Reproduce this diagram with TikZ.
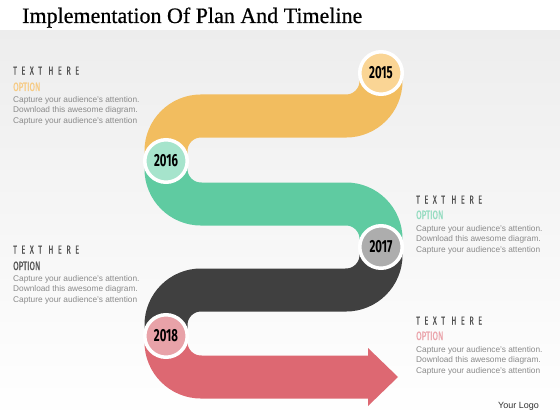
\documentclass[tikz,border=0pt]{standalone}
\usepackage{fontspec}
\setmainfont{Liberation Sans}
\newfontfamily\titlefont[FakeBold=0.6]{Liberation Serif}
\newfontfamily\yearfont[FakeStretch=0.65]{Fira Sans}
\newfontfamily\headfont[FakeStretch=0.62,LetterSpace=40,FakeBold=0.8]{Fira Sans}
\newfontfamily\optfont[FakeStretch=0.66,FakeBold=0.6]{Fira Sans}
\definecolor{orangeband}{HTML}{F2BD5F}
\definecolor{orangecirc}{HTML}{FAD595}
\definecolor{greenband}{HTML}{5FCBA1}
\definecolor{greencirc}{HTML}{A6E4CC}
\definecolor{darkband}{HTML}{404040}
\definecolor{graycirc}{HTML}{ADADAD}
\definecolor{redband}{HTML}{DD6872}
\definecolor{pinkcirc}{HTML}{E8A2A8}
\definecolor{optorange}{HTML}{F7CB83}
\definecolor{optgreen}{HTML}{93DCC0}
\definecolor{optgray}{HTML}{555555}
\definecolor{optpink}{HTML}{EBA4AB}
\definecolor{headgray}{HTML}{505050}
\definecolor{bodygray}{HTML}{8A8A8A}
\begin{document}
\begin{tikzpicture}[x=1pt,y=-1pt,
  band/.style={line width=43pt, rounded corners=35pt},
  yearcirc/.style={circle, draw=white, line width=3.5pt, minimum size=42.5pt, inner sep=0pt,
    font=\yearfont\bfseries\fontsize{17.5}{17.5}\selectfont, text=black},
  headtxt/.style={anchor=base west, inner sep=0pt, font=\headfont\fontsize{11.5}{11.5}\selectfont, text=headgray},
  opttxt/.style={anchor=base west, inner sep=0pt, font=\optfont\fontsize{12}{12}\selectfont},
  bodytxt/.style={anchor=north west, inner sep=0pt, align=left, font=\fontsize{8.3}{10.5}\selectfont, text=bodygray}
]
\useasboundingbox (0,0) rectangle (560,420);
\fill[white] (0,0) rectangle (560,420);
\shade[top color=black!7, bottom color=white] (0,31) rectangle (560,420);
\node[anchor=base west, inner sep=0pt, font=\titlefont\fontsize{22}{22}\selectfont] (title) at (22,23) {Implementation Of Plan And Timeline};

% circle positions
\coordinate (p15) at (381,73);
\coordinate (p16) at (166,161);
\coordinate (p17) at (381,247);
\coordinate (p18) at (166,336);

% bands
\draw[band, draw=orangeband] (p15) -- (381,116) -- (166,116) -- (p16);
\draw[band, draw=greenband] (p16) -- (166,204) -- (381,204) -- (p17);
\draw[band, draw=darkband] (p17) -- (381,290) -- (166,290) -- (p18);
\draw[band, draw=redband] (p18) -- (166,377) -- (370,377);
\fill[redband] (368,348) -- (398,377) -- (368,406) -- cycle;

% year circles
\node[yearcirc, fill=orangecirc] (c15) at (p15) {2015};
\node[yearcirc, fill=greencirc] (c16) at (p16) {2016};
\node[yearcirc, fill=graycirc] (c17) at (p17) {2017};
\node[yearcirc, fill=pinkcirc] (c18) at (p18) {2018};

% text blocks
\node[headtxt] (h1) at (13,74.5) {TEXT HERE};
\node[opttxt, text=optorange] (o1) at (13,91) {OPTION};
\node[bodytxt] (b1) at (13,96) {Capture your audience's attention.\\Download this awesome diagram.\\Capture your audience's attention};

\node[headtxt] (h2) at (416,203.5) {TEXT HERE};
\node[opttxt, text=optgreen] (o2) at (416,219) {OPTION};
\node[bodytxt] (b2) at (416,225) {Capture your audience's attention.\\Download this awesome diagram.\\Capture your audience's attention};

\node[headtxt] (h3) at (13,253.5) {TEXT HERE};
\node[opttxt, text=optgray] (o3) at (13,270) {OPTION};
\node[bodytxt] (b3) at (13,275) {Capture your audience's attention.\\Download this awesome diagram.\\Capture your audience's attention};

\node[headtxt] (h4) at (416,324.5) {TEXT HERE};
\node[opttxt, text=optpink] (o4) at (416,340) {OPTION};
\node[bodytxt] (b4) at (416,346) {Capture your audience's attention.\\Download this awesome diagram.\\Capture your audience's attention};

\node[anchor=west, inner sep=0pt, font=\fontsize{9}{9}\selectfont, text=black!80] (logo) at (498,406) {Your Logo};
\end{tikzpicture}
\end{document}
